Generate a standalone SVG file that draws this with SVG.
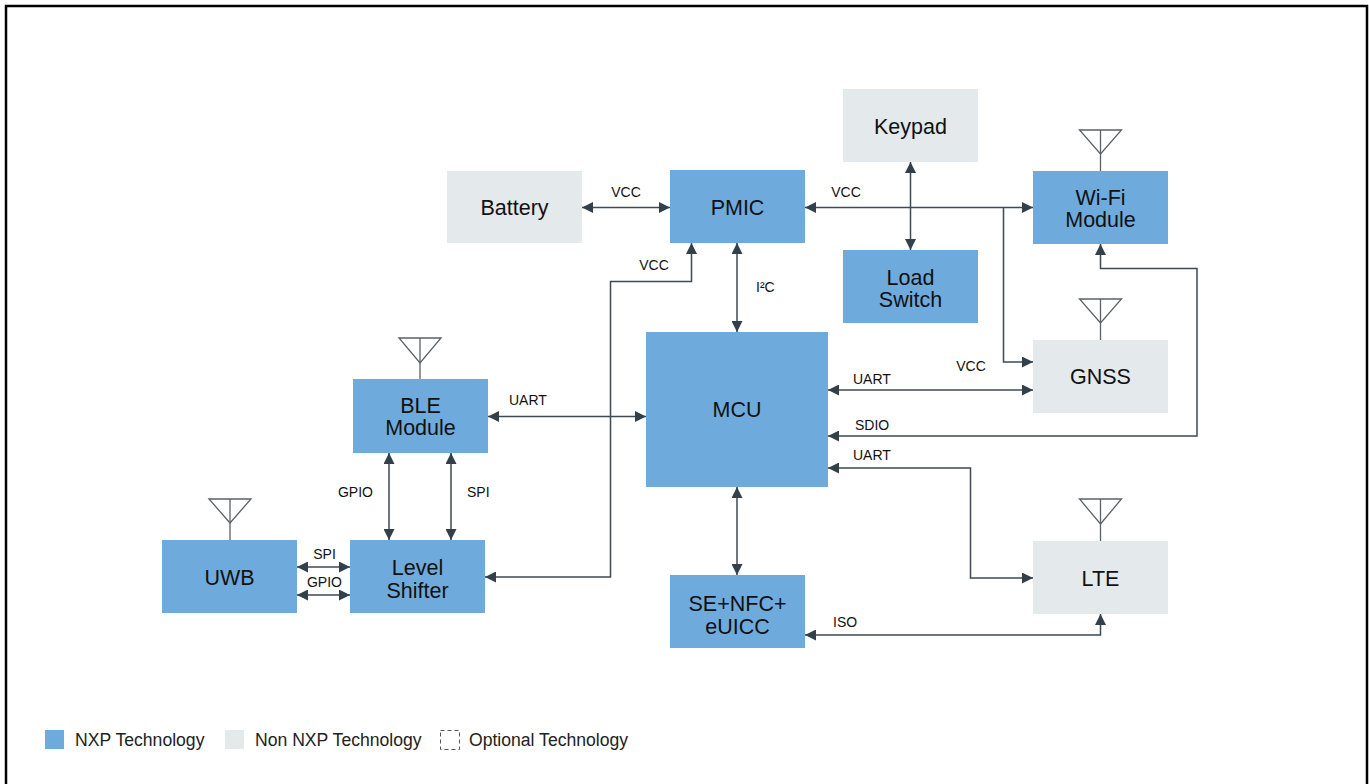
<svg xmlns="http://www.w3.org/2000/svg" width="1369" height="784" viewBox="0 0 1369 784">
<defs>
<style>
.nxp{fill:#6eabdc}
.non{fill:#e4e9ec}
.lbl{font-family:"Liberation Sans",Arial,sans-serif;font-size:21.5px;fill:#111;text-anchor:middle}
.sm{font-family:"Liberation Sans",Arial,sans-serif;font-size:14px;fill:#111}
.leg{font-family:"Liberation Sans",Arial,sans-serif;font-size:17.6px;fill:#222}
.ant{fill:none;stroke:#5a6166;stroke-width:1.3}
.con{fill:none;stroke:#3e4a54;stroke-width:1.5;marker-start:url(#ah);marker-end:url(#ah)}
.one{fill:none;stroke:#3e4a54;stroke-width:1.5;marker-end:url(#ah)}
</style>
<marker id="ah" markerUnits="userSpaceOnUse" markerWidth="11" markerHeight="11" viewBox="0 0 10 10" refX="10" refY="5" orient="auto-start-reverse">
<path d="M0,0 L10,5 L0,10 z" fill="#333f49"/>
</marker>
</defs>
<rect width="1369" height="784" fill="#fff"/>
<path d="M6,784 V6 H1367 V784" fill="none" stroke="#000" stroke-width="2.5"/>

<g id="connectors">
<path class="con" d="M582,207.5 H670"/>
<path class="con" d="M805,207.5 H1033"/>
<path class="one" d="M1003.5,207.5 V362 H1033"/>
<path class="con" d="M910.5,162 V250"/>
<path class="con" d="M737,243 V332"/>
<path class="con" d="M691.5,243 V281.5 H610.5 V577 H485"/>
<path class="con" d="M488,416.5 H646"/>
<path class="con" d="M389,453 V540"/>
<path class="con" d="M451,453 V540"/>
<path class="con" d="M297,567 H350"/>
<path class="con" d="M297,595 H350"/>
<path class="con" d="M828,390 H1033"/>
<path class="con" d="M1100.5,244 V268.5 H1197 V436 H828"/>
<path class="con" d="M828,468 H970.5 V578 H1033"/>
<path class="con" d="M737,487 V575"/>
<path class="con" d="M805,635 H1100.5 V614"/>
<text class="sm" x="626" y="197" text-anchor="middle">VCC</text>
<text class="sm" x="846" y="197" text-anchor="middle">VCC</text>
<text class="sm" x="654" y="270" text-anchor="middle">VCC</text>
<text class="sm" x="756" y="292">I²C</text>
<text class="sm" x="509" y="405">UART</text>
<text class="sm" x="373" y="497" text-anchor="end">GPIO</text>
<text class="sm" x="467" y="497">SPI</text>
<text class="sm" x="324.5" y="559" text-anchor="middle">SPI</text>
<text class="sm" x="324.5" y="587" text-anchor="middle">GPIO</text>
<text class="sm" x="971" y="371" text-anchor="middle">VCC</text>
<text class="sm" x="853" y="384">UART</text>
<text class="sm" x="855" y="430">SDIO</text>
<text class="sm" x="853" y="460">UART</text>
<text class="sm" x="833" y="627">ISO</text>
</g>

<g id="battery"><rect class="non" x="447" y="171" width="135" height="72"/><text class="lbl" x="514.5" y="215">Battery</text></g>
<g id="pmic"><rect class="nxp" x="670" y="170" width="135" height="73"/><text class="lbl" x="737.5" y="215">PMIC</text></g>
<g id="keypad"><rect class="non" x="843" y="89" width="135" height="73"/><text class="lbl" x="910.5" y="134">Keypad</text></g>
<g id="load-switch"><rect class="nxp" x="843" y="250" width="135" height="73"/><text class="lbl" x="910.5" y="285">Load</text><text class="lbl" x="910.5" y="307">Switch</text></g>
<g id="wifi"><line class="ant" x1="1100.5" y1="130" x2="1100.5" y2="171"/><polygon class="ant" points="1079.5,130 1121.5,130 1100.5,154"/><rect class="nxp" x="1033" y="171" width="135" height="73"/><text class="lbl" x="1100.5" y="205">Wi-Fi</text><text class="lbl" x="1100.5" y="227">Module</text></g>
<g id="gnss"><line class="ant" x1="1100.5" y1="299" x2="1100.5" y2="340"/><polygon class="ant" points="1079.5,299 1121.5,299 1100.5,323"/><rect class="non" x="1033" y="340" width="135" height="73"/><text class="lbl" x="1100.5" y="384">GNSS</text></g>
<g id="mcu"><rect class="nxp" x="646" y="332" width="182" height="155"/><text class="lbl" x="737" y="417">MCU</text></g>
<g id="ble"><line class="ant" x1="420" y1="338" x2="420" y2="379"/><polygon class="ant" points="399,338 441,338 420,363"/><rect class="nxp" x="353" y="379" width="135" height="74"/><text class="lbl" x="420.5" y="413">BLE</text><text class="lbl" x="420.5" y="434.5">Module</text></g>
<g id="uwb"><line class="ant" x1="230" y1="499" x2="230" y2="540"/><polygon class="ant" points="209,499 251,499 230,523"/><rect class="nxp" x="162" y="540" width="135" height="73"/><text class="lbl" x="229.5" y="584.5">UWB</text></g>
<g id="level-shifter"><rect class="nxp" x="350" y="540" width="135" height="73"/><text class="lbl" x="417.5" y="574.5">Level</text><text class="lbl" x="417.5" y="597.5">Shifter</text></g>
<g id="se"><rect class="nxp" x="670" y="575" width="135" height="73"/><text class="lbl" x="737.5" y="611">SE+NFC+</text><text class="lbl" x="737.5" y="634">eUICC</text></g>
<g id="lte"><line class="ant" x1="1100.5" y1="499" x2="1100.5" y2="541"/><polygon class="ant" points="1079.5,499 1121.5,499 1100.5,524"/><rect class="non" x="1033" y="541" width="135" height="73"/><text class="lbl" x="1100.5" y="586">LTE</text></g>

<g id="legend">
<rect class="nxp" x="45" y="730" width="19" height="19"/>
<text class="leg" x="75" y="746">NXP Technology</text>
<rect class="non" x="225" y="730" width="19" height="19"/>
<text class="leg" x="255" y="746">Non NXP Technology</text>
<rect x="440.5" y="730.5" width="19" height="19" fill="none" stroke="#555" stroke-width="1" stroke-dasharray="4,3"/>
<text class="leg" x="469" y="746">Optional Technology</text>
</g>
</svg>
